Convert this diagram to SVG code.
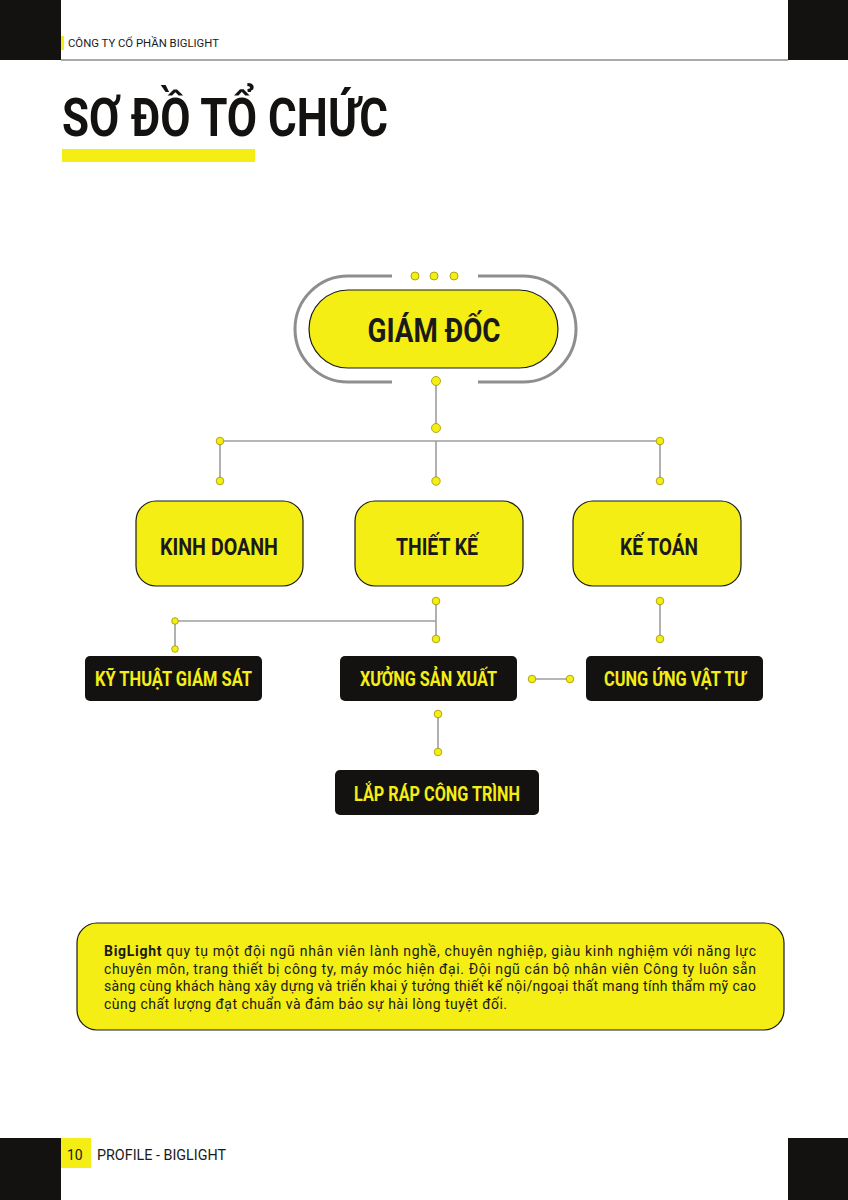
<svg xmlns="http://www.w3.org/2000/svg" width="848" height="1200" viewBox="0 0 848 1200">
<style>
.blk{fill:#141210}
.yl{fill:#f4ee14}
.dot{fill:#f4ee14;stroke:#9a9400;stroke-width:0.8}
.ln{stroke:#9e9e9e;stroke-width:1.6;fill:none}
.ybox{fill:#f4ee14;stroke:#1a1a1a;stroke-width:1.2}
.dbox{fill:#141210}
.t{font-family:Roboto,"Liberation Sans",sans-serif;font-weight:bold;text-anchor:middle}
.tk{fill:#1a1a1a}
.ty{fill:#f4ee14}
.p{font-family:Roboto,"Liberation Sans",sans-serif;font-size:14px;fill:#1a1a1a}
</style>
<rect width="848" height="1200" fill="#ffffff"/>
<!-- header -->
<g id="header">
<rect class="blk" x="0" y="0" width="61" height="60"/>
<rect class="blk" x="788" y="0" width="60" height="60"/>
<line x1="61" y1="60" x2="788" y2="60" stroke="#8c8c8c" stroke-width="1.5"/>
<rect class="yl" x="61" y="36" width="3" height="14"/>
<text x="68" y="47" font-family="Roboto,'Liberation Sans',sans-serif" font-size="11.5" fill="#1a1a1a" textLength="151" lengthAdjust="spacingAndGlyphs">CÔNG TY CỔ PHẦN BIGLIGHT</text>
</g>
<g id="title">
<text x="62" y="136" font-family="Roboto,'Liberation Sans',sans-serif" font-weight="bold" font-size="53" fill="#141210" textLength="326" lengthAdjust="spacingAndGlyphs">SƠ ĐỒ TỔ CHỨC</text>
<rect class="yl" x="62" y="149" width="193" height="13"/>
</g>
<!-- connectors -->
<g id="connectors">
<path class="ln" d="M436 381 V428"/>
<path class="ln" d="M220 441 H660"/>
<path class="ln" d="M220 441 V481 M436 441 V481 M660 441 V481"/>
<path class="ln" d="M436 601 V639"/>
<path class="ln" d="M175 621 H436"/>
<path class="ln" d="M175 621 V649"/>
<path class="ln" d="M660 601 V639"/>
<path class="ln" d="M532 679 H570"/>
<path class="ln" d="M438 714 V752"/>
<circle class="dot" cx="436" cy="381" r="4.5"/>
<circle class="dot" cx="436" cy="428" r="4.5"/>
<circle class="dot" cx="220" cy="441" r="3.8"/>
<circle class="dot" cx="660" cy="441" r="3.8"/>
<circle class="dot" cx="220" cy="481" r="3.8"/>
<circle class="dot" cx="436" cy="481" r="4.2"/>
<circle class="dot" cx="660" cy="481" r="3.8"/>
<circle class="dot" cx="436" cy="601" r="3.8"/>
<circle class="dot" cx="436" cy="639" r="3.8"/>
<circle class="dot" cx="660" cy="601" r="3.8"/>
<circle class="dot" cx="660" cy="639" r="3.8"/>
<circle class="dot" cx="175" cy="621" r="3.3"/>
<circle class="dot" cx="175" cy="649" r="3.3"/>
<circle class="dot" cx="532" cy="679" r="3.8"/>
<circle class="dot" cx="570" cy="679" r="3.8"/>
<circle class="dot" cx="438" cy="714" r="3.8"/>
<circle class="dot" cx="438" cy="752" r="3.8"/>
</g>
<!-- nodes -->
<g id="giam-doc">
<path d="M392 276 H348 A53 53 0 0 0 348 382 H392 M478 276 H523 A53 53 0 0 1 523 382 H478" fill="none" stroke="#8e8e8e" stroke-width="3"/>
<circle class="dot" cx="415" cy="276" r="4"/>
<circle class="dot" cx="434" cy="276" r="4"/>
<circle class="dot" cx="454" cy="276" r="4"/>
<rect class="ybox" x="309" y="290" width="249" height="78" rx="39"/>
<text class="t tk" x="434" y="342" font-size="33" textLength="133" lengthAdjust="spacingAndGlyphs">GIÁM ĐỐC</text>
</g>
<g id="kinh-doanh">
<rect class="ybox" x="136" y="501" width="167" height="85" rx="20"/>
<text class="t tk" x="219" y="555" font-size="23" textLength="118" lengthAdjust="spacingAndGlyphs">KINH DOANH</text>
</g>
<g id="thiet-ke">
<rect class="ybox" x="355" y="501" width="168" height="85" rx="20"/>
<text class="t tk" x="437" y="555" font-size="23" textLength="82" lengthAdjust="spacingAndGlyphs">THIẾT KẾ</text>
</g>
<g id="ke-toan">
<rect class="ybox" x="573" y="501" width="168" height="85" rx="20"/>
<text class="t tk" x="659" y="555" font-size="23" textLength="78" lengthAdjust="spacingAndGlyphs">KẾ TOÁN</text>
</g>
<g id="ky-thuat-giam-sat">
<rect class="dbox" x="85" y="656" width="177" height="45" rx="5"/>
<text class="t ty" x="173.5" y="686" font-size="19.5" textLength="157" lengthAdjust="spacingAndGlyphs">KỸ THUẬT GIÁM SÁT</text>
</g>
<g id="xuong-san-xuat">
<rect class="dbox" x="340" y="656" width="177" height="45" rx="5"/>
<text class="t ty" x="428.5" y="686" font-size="19.5" textLength="137" lengthAdjust="spacingAndGlyphs">XƯỞNG SẢN XUẤT</text>
</g>
<g id="cung-ung-vat-tu">
<rect class="dbox" x="586" y="656" width="177" height="45" rx="5"/>
<text class="t ty" x="675" y="686" font-size="19.5" textLength="142" lengthAdjust="spacingAndGlyphs">CUNG ỨNG VẬT TƯ</text>
</g>
<g id="lap-rap-cong-trinh">
<rect class="dbox" x="335" y="770" width="204" height="45" rx="5"/>
<text class="t ty" x="437" y="801" font-size="19.5" textLength="166" lengthAdjust="spacingAndGlyphs">LẮP RÁP CÔNG TRÌNH</text>
</g>
<!-- description -->
<g id="description">
<rect class="ybox" x="77" y="923" width="707" height="107" rx="20"/>
<text class="p" x="104" y="956" textLength="652"><tspan font-weight="bold">BigLight</tspan> quy tụ một đội ngũ nhân viên lành nghề, chuyên nghiệp, giàu kinh nghiệm với năng lực</text>
<text class="p" x="104" y="973.5" textLength="652">chuyên môn, trang thiết bị công ty, máy móc hiện đại. Đội ngũ cán bộ nhân viên Công ty luôn sẵn</text>
<text class="p" x="104" y="991" textLength="652">sàng cùng khách hàng xây dựng và triển khai ý tưởng thiết kế nội/ngoại thất mang tính thẩm mỹ cao</text>
<text class="p" x="104" y="1008.5" textLength="403">cùng chất lượng đạt chuẩn và đảm bảo sự hài lòng tuyệt đối.</text>
</g>
<!-- footer -->
<g id="footer">
<rect class="blk" x="0" y="1138" width="61" height="62"/>
<rect class="blk" x="788" y="1138" width="60" height="62"/>
<rect class="yl" x="61" y="1138" width="30" height="30"/>
<text x="67" y="1160" font-family="Roboto,'Liberation Sans',sans-serif" font-size="14" fill="#1a1a1a">10</text>
<text x="97" y="1160" font-family="Roboto,'Liberation Sans',sans-serif" font-size="14" fill="#1a1a1a" textLength="129" lengthAdjust="spacingAndGlyphs">PROFILE - BIGLIGHT</text>
</g>
</svg>
